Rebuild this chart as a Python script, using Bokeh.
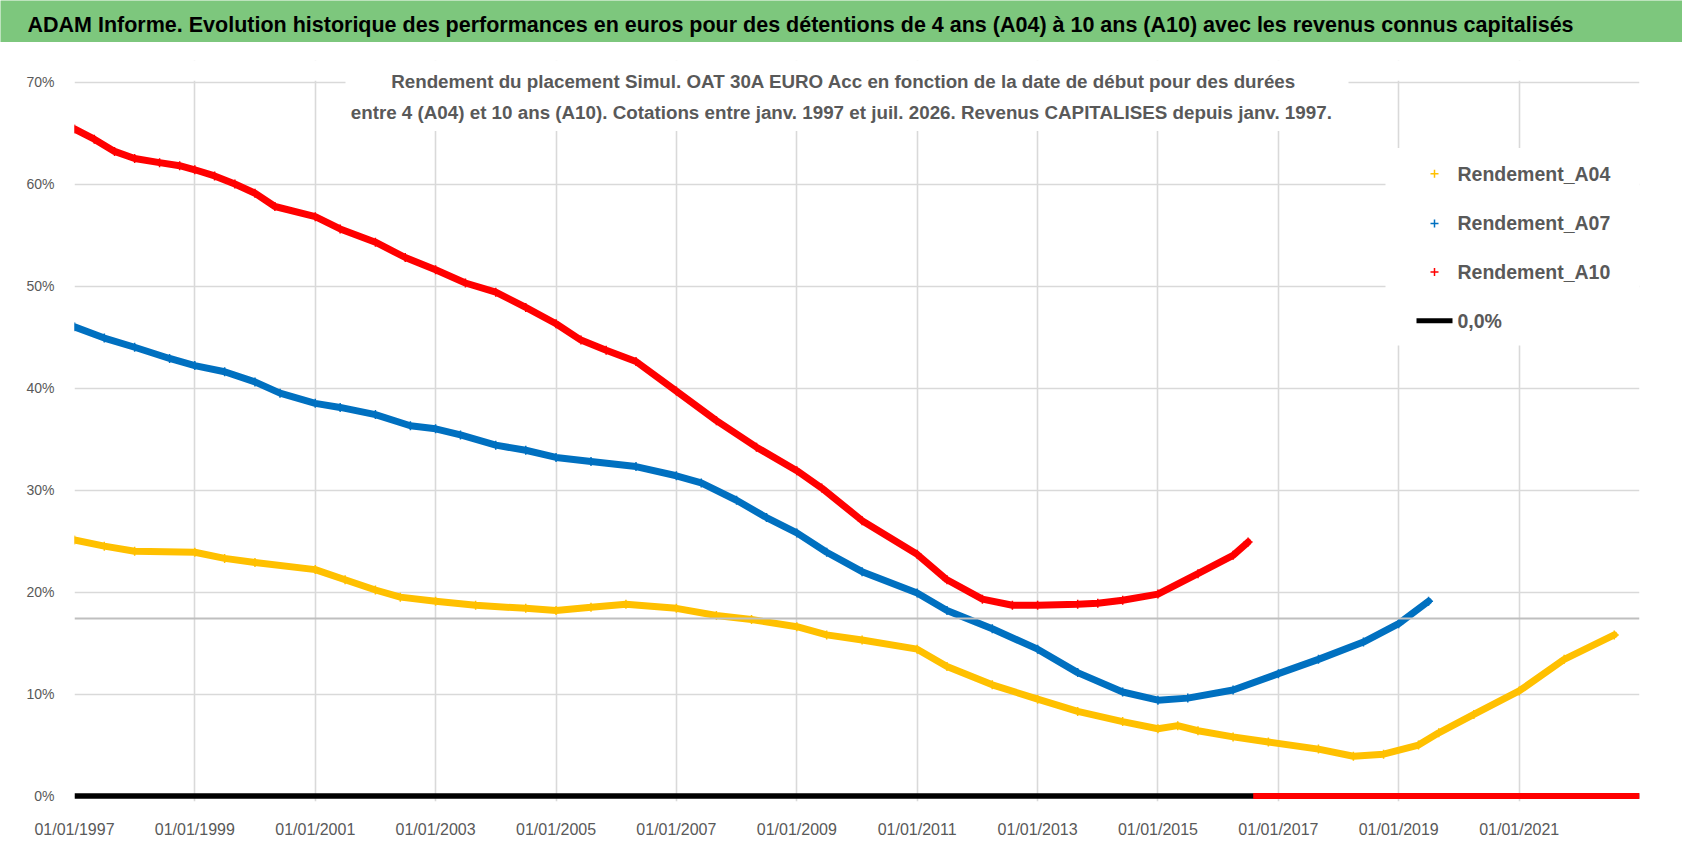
import pandas as pd
from bokeh.plotting import figure
from bokeh.models import (FixedTicker, DatetimeTickFormatter, PrintfTickFormatter, Span,
                          BoxAnnotation, Label, Range1d)
from bokeh.layouts import column
from bokeh.embed import file_html
from bokeh.resources import INLINE

# ---------------- data ----------------
title_text = ("ADAM Informe. Evolution historique des performances en euros pour des détentions "
              "de 4 ans (A04) à 10 ans (A10) avec les revenus connus capitalisés")
subtitle_line1 = ("Rendement du placement Simul. OAT 30A EURO Acc  en fonction de la date de début "
                  "pour des durées")
subtitle_line2 = ("entre 4 (A04) et 10 ans (A10).  Cotations entre janv. 1997 et juil. 2026. "
                  "Revenus CAPITALISES  depuis janv. 1997.")
legend_labels = ["Rendement_A04", "Rendement_A07", "Rendement_A10", "0,0%"]

a10_dates = ["1997-01", "1997-05", "1997-09", "1998-01", "1998-06", "1998-10", "1999-01", "1999-05",
             "1999-09", "2000-01", "2000-05", "2001-01", "2001-06", "2002-01", "2002-07", "2003-01",
             "2003-07", "2004-01", "2004-07", "2005-01", "2005-06", "2005-11", "2006-05", "2007-01",
             "2007-09", "2008-05", "2009-01", "2009-06", "2010-02", "2011-01", "2011-07", "2012-02",
             "2012-08", "2013-01", "2013-09", "2014-01", "2014-06", "2015-01", "2015-09", "2016-04",
             "2016-07"]
a10_values = [65.4, 64.4, 63.2, 62.5, 62.1, 61.8, 61.4, 60.8,
              60.0, 59.1, 57.8, 56.8, 55.6, 54.3, 52.8, 51.6,
              50.3, 49.4, 47.9, 46.3, 44.7, 43.7, 42.6, 39.7,
              36.8, 34.2, 31.9, 30.2, 27.0, 23.7, 21.2, 19.3,
              18.7, 18.7, 18.8, 18.9, 19.2, 19.8, 21.8, 23.6,
              24.9]

a07_dates = ["1997-01", "1997-07", "1998-01", "1998-08", "1999-01", "1999-07", "2000-01", "2000-06",
             "2001-01", "2001-06", "2002-01", "2002-08", "2003-01", "2003-06", "2004-01", "2004-07",
             "2005-01", "2005-08", "2006-05", "2007-01", "2007-06", "2008-01", "2008-07", "2009-01",
             "2009-07", "2010-02", "2011-01", "2011-07", "2012-04", "2013-01", "2013-09", "2014-06",
             "2015-01", "2015-07", "2016-04", "2017-01", "2017-09", "2018-06", "2019-01", "2019-07"]
a07_values = [46.0, 44.9, 44.0, 42.9, 42.2, 41.6, 40.6, 39.5,
              38.5, 38.1, 37.4, 36.3, 36.0, 35.4, 34.4, 33.9,
              33.2, 32.8, 32.3, 31.4, 30.7, 29.0, 27.3, 25.8,
              23.9, 22.0, 19.9, 18.2, 16.4, 14.4, 12.1, 10.2,
              9.4, 9.6, 10.4, 12.0, 13.4, 15.1, 16.9, 19.1]

a04_dates = ["1997-01", "1997-07", "1998-01", "1999-01", "1999-07", "2000-01", "2001-01", "2001-07",
             "2002-01", "2002-06", "2003-01", "2003-09", "2004-07", "2005-01", "2005-08", "2006-03",
             "2007-01", "2007-09", "2008-04", "2009-01", "2009-07", "2010-02", "2011-01", "2011-07",
             "2012-04", "2013-01", "2013-09", "2014-06", "2015-01", "2015-05", "2015-09", "2016-04",
             "2016-11", "2017-09", "2018-04", "2018-10", "2019-05", "2019-09", "2020-04", "2021-01",
             "2021-10", "2022-08"]
a04_values = [25.1, 24.5, 24.0, 23.9, 23.3, 22.9, 22.2, 21.2,
              20.2, 19.5, 19.1, 18.7, 18.4, 18.2, 18.5, 18.8,
              18.4, 17.7, 17.3, 16.6, 15.8, 15.3, 14.4, 12.7,
              10.9, 9.5, 8.3, 7.3, 6.6, 6.9, 6.4, 5.8,
              5.3, 4.6, 3.9, 4.1, 5.0, 6.2, 8.0, 10.3,
              13.4, 15.8]

# zero series ("0,0%") and A10 shown as 0 after its last start date
zero_dates = ["1997-01", "2023-01"]
zero_values = [0.0, 0.0]
a10_zero_dates = ["2016-08", "2023-01"]
a10_zero_values = [0.0, 0.0]

reference_level = 17.4          # grey horizontal line across the plot
tick_years = list(range(1997, 2022, 2))
y_ticks = [0, 10, 20, 30, 40, 50, 60, 70]
y_top_tick = 70
x_start, x_end = "1997-01-01", "2023-01-01"

# ---------------- layout / styling ----------------
FONT = "Liberation Sans"
GREY_TXT = "#595959"
GRID = "#D9D9D9"
C04, C07, C10 = "#FFC000", "#0070C0", "#FF0000"
GREEN = "#7DC77D"

W, H_TITLE = 1682, 42
H_MAIN = 840 - H_TITLE
FRAME_LEFT, FRAME_RIGHT = 74, 1639                 # page px
Y70_PAGE, Y0_PAGE = 81.7, 800.5                    # page px of 70 % and 0 %
FRAME_TOP_PAGE, FRAME_BOTTOM_PAGE = 60, 806
ML, MR = FRAME_LEFT, W - FRAME_RIGHT
MT = FRAME_TOP_PAGE - H_TITLE
MB = 840 - FRAME_BOTTOM_PAGE
FRAME_W = FRAME_RIGHT - FRAME_LEFT
PX_PER_UNIT = (Y0_PAGE - Y70_PAGE) / y_top_tick

def d(lst):
    return pd.to_datetime(lst)

xs, xe = pd.Timestamp(x_start), pd.Timestamp(x_end)

def x_at(page_px):
    return xs + (page_px - FRAME_LEFT) / FRAME_W * (xe - xs)

def y_at(page_py):
    return (Y0_PAGE - page_py) / PX_PER_UNIT

# ---------------- title bar ----------------
pt = figure(width=W, height=H_TITLE, x_range=Range1d(0, W), y_range=Range1d(0, H_TITLE),
            toolbar_location=None, output_backend="svg",
            x_axis_location=None, y_axis_location=None, min_border=0)
pt.frame_align = False
pt.background_fill_color = GREEN
pt.border_fill_color = GREEN
pt.outline_line_color = None
pt.grid.visible = False
pt.add_layout(Label(x=27, y=H_TITLE - 24.2, text=title_text, text_font=FONT,
                    text_font_style="bold", text_font_size="21.5px", text_color="black",
                    text_baseline="middle", text_align="left"))

# ---------------- main chart ----------------
p = figure(width=W, height=H_MAIN, x_axis_type="datetime",
           x_range=Range1d(xs, xe),
           y_range=Range1d(y_at(FRAME_BOTTOM_PAGE), y_at(FRAME_TOP_PAGE)),
           toolbar_location=None, output_backend="svg",
           min_border_left=ML, min_border_right=MR, min_border_top=MT, min_border_bottom=MB)
p.frame_align = False
p.background_fill_color = "white"
p.border_fill_color = "white"
p.outline_line_color = None

p.xaxis.ticker = FixedTicker(ticks=[pd.Timestamp(f"{y}-01-01").value / 1e6 for y in tick_years])
p.xaxis.formatter = DatetimeTickFormatter(years="%d/%m/%Y", months="%d/%m/%Y", days="%d/%m/%Y")
p.yaxis.ticker = FixedTicker(ticks=y_ticks)
p.yaxis.formatter = PrintfTickFormatter(format="%d%%")
for ax in (p.xaxis, p.yaxis):
    ax.axis_line_color = None
    ax.major_tick_line_color = None
    ax.minor_tick_line_color = None
    ax.major_label_text_color = GREY_TXT
    ax.major_label_text_font = FONT
p.xaxis.major_label_text_font_size = "16px"
p.yaxis.major_label_text_font_size = "14px"
p.xaxis.major_label_standoff = 13
p.yaxis.major_label_standoff = 14
p.grid.grid_line_color = GRID
p.grid.grid_line_width = 1.6

# nothing is drawn above the top tick: hide the vertical grid there
p.add_layout(BoxAnnotation(bottom=y_top_tick + 0.12, fill_color="white", fill_alpha=1,
                           line_color=None, level="underlay"))
# white box behind the subtitle
p.add_layout(BoxAnnotation(left=x_at(345), right=x_at(1348), bottom=y_at(131),
                           fill_color="white", fill_alpha=1, line_color=None, level="underlay"))
# white box behind the legend
p.add_layout(BoxAnnotation(left=x_at(1385), bottom=y_at(347), top=y_at(148),
                           fill_color="white", fill_alpha=1, line_color=None, level="underlay"))
p.add_layout(Span(location=reference_level, dimension="width", line_color="#BFBFBF", line_width=2))

p.line(d(zero_dates), zero_values, line_color="black", line_width=5.5)
for dates, vals, col in ((a04_dates, a04_values, C04), (a07_dates, a07_values, C07),
                         (a10_dates, a10_values, C10)):
    p.line(d(dates), vals, line_color=col, line_width=7, line_join="round", line_cap="round")
    p.scatter(d(dates), vals, marker="cross", size=9, line_color=col, line_width=1.5)
p.line(d(a10_zero_dates), a10_zero_values, line_color=C10, line_width=6)

for txt, py in ((subtitle_line1, 81), (subtitle_line2, 112.5)):
    p.add_layout(Label(x=x_at(846), y=y_at(py), text=txt, text_font=FONT, text_font_style="bold",
                       text_font_size="18.8px", text_color=GREY_TXT, text_align="center",
                       text_baseline="middle"))

# legend: '+' keys for the series, a thick black stroke for the 0,0% line
legend_rows = [174, 224, 273, 322]          # page px of each row centre
p.scatter(x=[x_at(1434)] * 3, y=[y_at(r) for r in legend_rows[:3]], marker="cross", size=8,
          line_color=[C04, C07, C10], line_width=1.5)
p.segment(x0=[x_at(1416)], y0=[y_at(legend_rows[3])], x1=[x_at(1452)], y1=[y_at(legend_rows[3])],
          line_color="black", line_width=5)
for lab, r in zip(legend_labels, legend_rows):
    p.add_layout(Label(x=x_at(1457), y=y_at(r), text=lab, text_font=FONT, text_font_style="bold",
                       text_font_size="19.5px", text_color=GREY_TXT, text_align="left",
                       text_baseline="middle"))

page = column(pt, p, spacing=0)
open("out.html", "w").write(file_html(page, INLINE))
